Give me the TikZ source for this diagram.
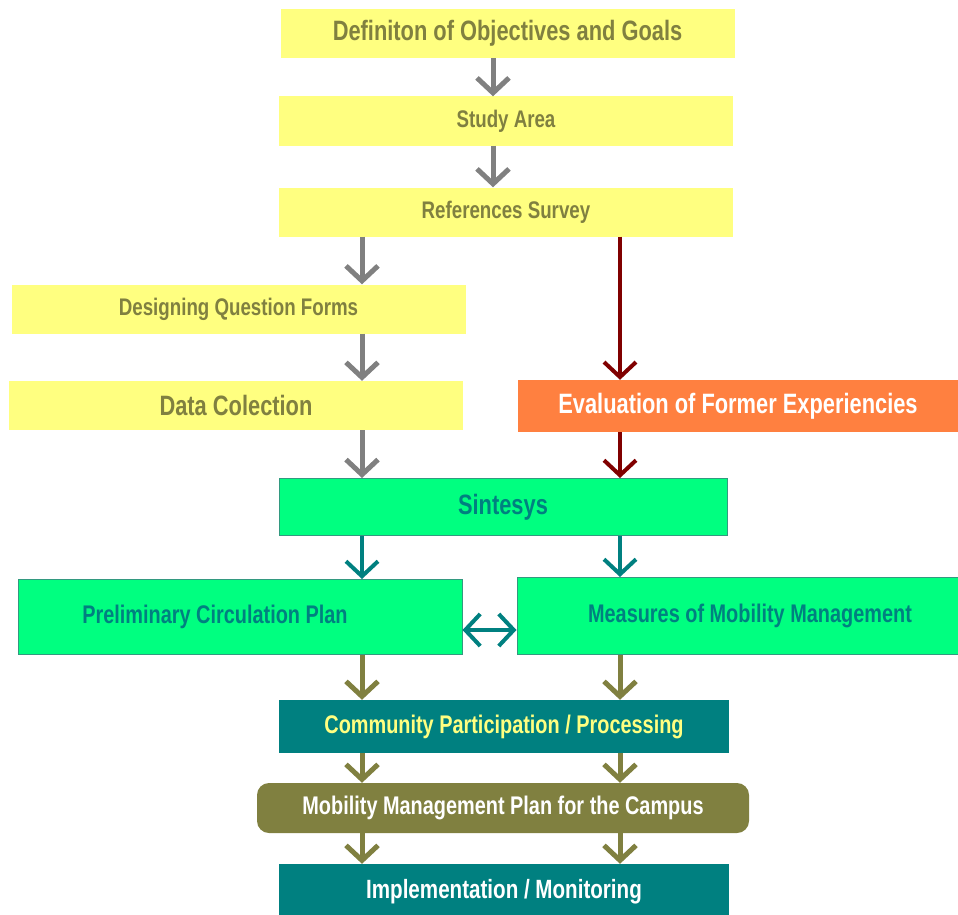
\documentclass[tikz,border=0pt]{standalone}
\usepackage{fontspec}
\setmainfont[FakeStretch=0.78]{Liberation Sans}
\usetikzlibrary{arrows.meta, positioning}

\definecolor{paleyellow}{HTML}{FFFF80}
\definecolor{olivetext}{HTML}{808040}
\definecolor{arrowgray}{HTML}{808080}
\definecolor{darkred}{HTML}{800000}
\definecolor{orangebox}{HTML}{FF8040}
\definecolor{springgreen}{HTML}{00FF80}
\definecolor{greenborder}{HTML}{339980}
\definecolor{darkteal}{HTML}{008080}

\begin{document}
\begin{tikzpicture}[x=1pt, y=-1pt,
    box/.style={rectangle, inner sep=0pt, font=\bfseries\fontsize{24}{26}\selectfont},
    bigtext/.style={font=\bfseries\fontsize{28}{30}\selectfont},
    midtext/.style={font=\bfseries\fontsize{25.5}{28}\selectfont},
    yellowbox/.style={box, fill=paleyellow, text=olivetext, minimum width=454pt, minimum height=49pt},
    greenbox/.style={box, fill=springgreen, draw=greenborder, line width=1pt, text=darkteal},
    flow/.style={line width=5pt, -{Straight Barb[length=15pt, width=32pt]}},
    twoway/.style={line width=4pt, {Straight Barb[length=15pt, width=32pt]}-{Straight Barb[length=15pt, width=32pt]}}]
    \useasboundingbox (0,0) rectangle (958,915);

    \node[yellowbox, bigtext] (goals) at (507.5,33.5) {Definiton of Objectives and Goals};
    \node[yellowbox] (area) at (506,121) {Study Area};
    \node[yellowbox] (survey) at (506,212) {References Survey};
    \node[yellowbox] (forms) at (238.5,309) {Designing Question Forms};
    \node[yellowbox, bigtext] (collect) at (236,405.5) {Data Colection};
    \node[box, bigtext, fill=orangebox, text=white, minimum width=440pt, minimum height=52pt] (former) at (738,406) {Evaluation of Former Experiencies};
    \node[greenbox, bigtext, minimum width=448pt, minimum height=57pt] (synth) at (503,507) {Sintesys};
    \node[greenbox, midtext, minimum width=444pt, minimum height=75pt] (prelim) at (240,617) {Preliminary Circulation Plan\hspace*{50pt}};
    \node[greenbox, midtext, minimum width=441pt, minimum height=77pt] (measures) at (737.5,616) {\hspace*{25pt}Measures of Mobility Management};
    \node[box, midtext, fill=darkteal, text=paleyellow, minimum width=450pt, minimum height=53pt] (partic) at (504,726.5) {Community Participation / Processing};
    \node[box, midtext, fill=olivetext, text=white, rounded corners=12pt, minimum width=492pt, minimum height=50pt] (campus) at (503,808) {Mobility Management Plan for the Campus};
    \node[box, font=\bfseries\fontsize{26.4}{28}\selectfont, fill=darkteal, text=white, minimum width=450pt, minimum height=56pt] (monitor) at (504,892) {Implementation / Monitoring};

    % arrow lanes
    \coordinate (midlane) at (493,0);
    \coordinate (leftlane) at (362,0);
    \coordinate (rightlane) at (620,0);
    \coordinate (dblrow) at (0,630);

    \draw[flow, arrowgray] (goals.south -| midlane) -- (area.north -| midlane);
    \draw[flow, arrowgray] (area.south -| midlane) -- (survey.north -| midlane);
    \draw[flow, arrowgray] (survey.south -| leftlane) -- (forms.north -| leftlane);
    \draw[flow, arrowgray] (forms.south -| leftlane) -- (collect.north -| leftlane);
    \draw[flow, arrowgray] (collect.south -| leftlane) -- (synth.north -| leftlane);
    \draw[flow, darkred, line width=4pt] (survey.south -| rightlane) -- (former.north -| rightlane);
    \draw[flow, darkred, line width=4pt] (former.south -| rightlane) -- (synth.north -| rightlane);
    \draw[flow, darkteal, line width=4pt] (synth.south -| leftlane) -- (prelim.north -| leftlane);
    \draw[flow, darkteal, line width=4pt] (synth.south -| rightlane) -- (measures.north -| rightlane);
    \draw[twoway, darkteal] (prelim.east |- dblrow) -- (measures.west |- dblrow);
    \draw[flow, olivetext] (prelim.south -| leftlane) -- (partic.north -| leftlane);
    \draw[flow, olivetext] (measures.south -| rightlane) -- (partic.north -| rightlane);
    \draw[flow, olivetext] (partic.south -| leftlane) -- (campus.north -| leftlane);
    \draw[flow, olivetext] (partic.south -| rightlane) -- (campus.north -| rightlane);
    \draw[flow, olivetext] (campus.south -| leftlane) -- (monitor.north -| leftlane);
    \draw[flow, olivetext] (campus.south -| rightlane) -- (monitor.north -| rightlane);
\end{tikzpicture}
\end{document}
